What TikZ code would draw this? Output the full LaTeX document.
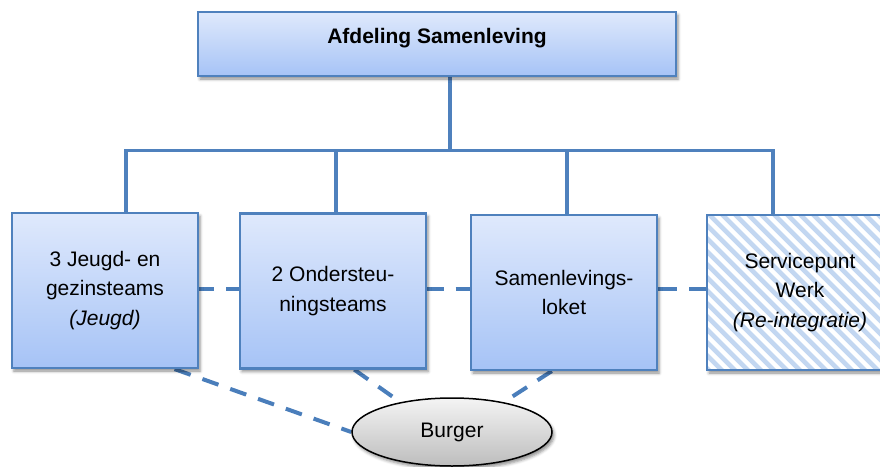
\documentclass[tikz,border=0pt]{standalone}
\usepackage{fontspec}
\setmainfont{Liberation Sans}
\usetikzlibrary{calc,shapes.geometric,shadows.blur}

\definecolor{frame}{HTML}{4F81BD}
\definecolor{wire}{HTML}{4A7EBB}
\definecolor{fillTop}{HTML}{DFE9FC}
\definecolor{fillBot}{HTML}{A6C3F6}
\definecolor{stripe}{HTML}{C3D7F1}
\definecolor{greyTop}{HTML}{F4F4F4}
\definecolor{greyBot}{HTML}{BDBDBD}

\pgfdeclarelayer{back}
\pgfsetlayers{back,main}

\tikzset{
  softshadow/.style={blur shadow={shadow xshift=2pt, shadow yshift=-3pt,
      shadow blur radius=3pt, shadow opacity=45}},
  labeltext/.style={font=\fontsize{21}{29.5}\selectfont, align=center},
  unitbox/.style={labeltext, draw=frame, line width=2.2pt,
      top color=fillTop, bottom color=fillBot,
      minimum width=186pt, minimum height=155pt, inner sep=0pt, softshadow},
  hatchbox/.style={labeltext, draw=frame, line width=2.2pt, fill=white,
      minimum width=186pt, minimum height=155pt, inner sep=0pt, softshadow,
      path picture={
        \foreach \k in {-18,...,18}
          \draw[line width=4.6pt, stripe]
            ([xshift=\k*13pt]path picture bounding box.center)
            ++(-130pt,130pt) -- ++(260pt,-260pt);
      }},
  headbox/.style={draw=frame, line width=2.2pt,
      top color=fillTop, bottom color=fillBot,
      minimum width=478pt, minimum height=64pt, inner sep=0pt,
      text height=15pt, text depth=17pt,
      font=\fontsize{21}{25}\selectfont\bfseries, softshadow},
  citizen/.style={ellipse, draw=black, line width=1.5pt,
      top color=greyTop, bottom color=greyBot,
      minimum width=200pt, minimum height=68pt, inner sep=0pt,
      font=\fontsize{21}{25}\selectfont, softshadow},
  tree/.style={draw=frame, line width=3.7pt},
  link/.style={draw=wire, line width=4pt, dash pattern=on 17pt off 12.5pt},
}

\begin{document}
\begin{tikzpicture}[x=1pt, y=-1pt]
  \useasboundingbox (0,0) rectangle (880,466);
  \clip (0,0) rectangle (880,466);

  % organisation units
  \node[headbox] (top) at (437,44) {Afdeling Samenleving};
  \node[unitbox] (jg) at (105,290.5) {3 Jeugd- en\\gezinsteams\\\textit{(Jeugd)}};
  \node[unitbox] (os) at (333,291) {2 Ondersteu-\\ningsteams};
  \node[unitbox] (sl) at (564,292.5) {Samenlevings-\\loket};
  \node[hatchbox] (sw) at (800,292.5) {Servicepunt\\Werk\\\textit{(Re-integratie)}};
  \node[citizen] (burger) at (452,432) {Burger};

  % branch points of the hierarchy
  \coordinate (hub) at (450,150.5);
  \coordinate (b1) at (126,150.5);
  \coordinate (b2) at (336,150.5);
  \coordinate (b3) at (567,150.5);
  \coordinate (b4) at (773,150.5);
  \coordinate (rail) at (0,289);

  \begin{pgfonlayer}{back}
    % hierarchy lines
    \draw[tree] (top.south -| hub) -- (hub);
    \draw[tree] (b1 |- jg.north) -- (b1) -- (b4) -- (b4 |- sw.north);
    \draw[tree] (b2) -- (b2 |- os.north);
    \draw[tree] (b3) -- (b3 |- sl.north);

    % cooperation between the units
    \draw[link, dash pattern=on 15pt off 12pt] (jg.east |- rail) -- (os.west |- rail);
    \draw[link, dash pattern=on 16.5pt off 12pt] (os.east |- rail) -- (sl.west |- rail);
    \draw[link, dash pattern=on 19pt off 12pt] (sl.east |- rail) -- (sw.west |- rail);

    % contact with the citizen
    \draw[link] ($(jg.south west)!0.87!(jg.south east)$) -- (burger.west);
    \draw[link] ($(os.south west)!0.613!(os.south east)$) -- (burger.150);
    \draw[link] ($(sl.south west)!0.435!(sl.south east)$) -- (burger.30);
  \end{pgfonlayer}
\end{tikzpicture}
\end{document}
